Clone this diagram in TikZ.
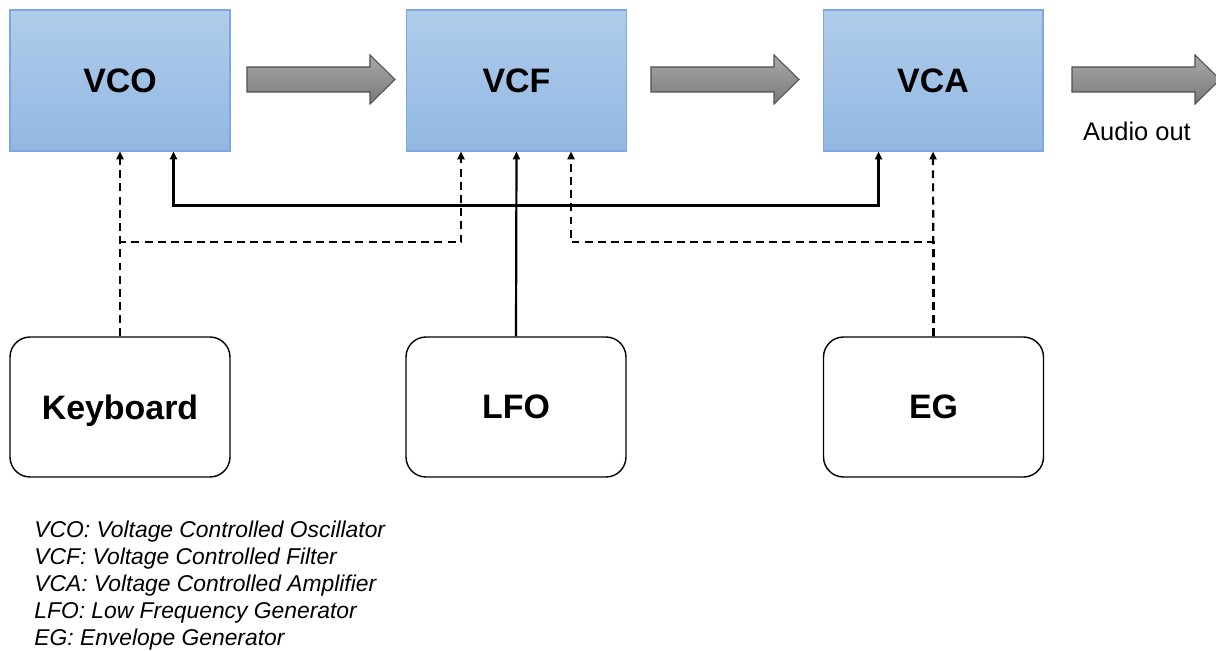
\documentclass[tikz,border=0pt]{standalone}
\usepackage{fontspec}
\setmainfont{Liberation Sans}
\usetikzlibrary{positioning,calc,arrows.meta}

\definecolor{boxtop}{RGB}{176,204,234}
\definecolor{boxbot}{RGB}{146,184,227}
\definecolor{boxline}{RGB}{126,166,224}
\definecolor{fattop}{RGB}{168,168,168}
\definecolor{fatbot}{RGB}{122,122,122}
\definecolor{fatline}{RGB}{80,80,80}

\tikzset{
    module/.style={draw=boxline,line width=0.6pt,top color=boxtop,bottom color=boxbot,
        minimum width=4.4cm,minimum height=2.82cm,inner sep=0pt,text depth=0pt,
        font=\fontsize{19.3}{22}\selectfont\bfseries},
    source/.style={draw,line width=0.8pt,rounded corners=0.4cm,
        minimum width=4.4cm,minimum height=2.8cm,inner sep=0pt,text depth=0pt,
        font=\fontsize{19.3}{22}\selectfont\bfseries},
    sig/.style={line width=1.25pt,-{Triangle[length=4.5pt,width=4pt]}},
    cv/.style={sig,dash pattern=on 4.5pt off 3pt}
}

\begin{document}
\begin{tikzpicture}[x=0.02cm,y=-0.02cm]
    \useasboundingbox (0,0) rectangle (1216,651);
    \clip (0,0) rectangle (1216,651);

    % modules
    \node[module] (vco) at (120,80.5) {VCO};
    \node[module] (vcf) at (516.5,80.5) {VCF};
    \node[module] (vca) at (933,80.5) {VCA};

    % control sources
    \node[source] (kbd) at (120,407) {Keyboard};
    \node[source] (lfo) at (516,407) {LFO};
    \node[source] (eg) at (933.5,407) {EG};

    % audio path
    \foreach \x in {247,651,1072} {
        \draw[fatline,line width=0.6pt,top color=fattop,bottom color=fatbot]
            (\x,67) -- (\x+123,67) -- (\x+123,55) -- (\x+148,79.5)
            -- (\x+123,104) -- (\x+123,92) -- (\x,92) -- cycle;
    }
    \node (out) at (1137,131) {\fontsize{14.5}{17}\selectfont Audio out};

    % keyboard
    \draw[cv] (kbd.north) -- (vco.south);
    \draw[cv] (kbd.north) -- ++(0,-94) -| ($(vcf.south west)+(55,0)$);

    % lfo
    \draw[sig] (lfo.north) -- (vcf.south);
    \draw[sig,{Triangle[length=4.5pt,width=4pt]}-{Triangle[length=4.5pt,width=4pt]}]
        ($(vco.south west)+(164,0)$) -- ++(0,54) -| ($(vca.south west)+(56,0)$);

    % envelope
    \draw[cv] (eg.north) -- (vca.south);
    \draw[cv] (eg.north) -- ++(0,-94) -| ($(vcf.south west)+(165,0)$);

    \node[anchor=north west,align=left,inner sep=0pt,
        font=\fontsize{13}{15.35}\selectfont\itshape] (legend) at (34,521)
        {VCO: Voltage Controlled Oscillator\\
         VCF: Voltage Controlled Filter\\
         VCA: Voltage Controlled Amplifier\\
         LFO: Low Frequency Generator\\
         EG: Envelope Generator};
\end{tikzpicture}
\end{document}
